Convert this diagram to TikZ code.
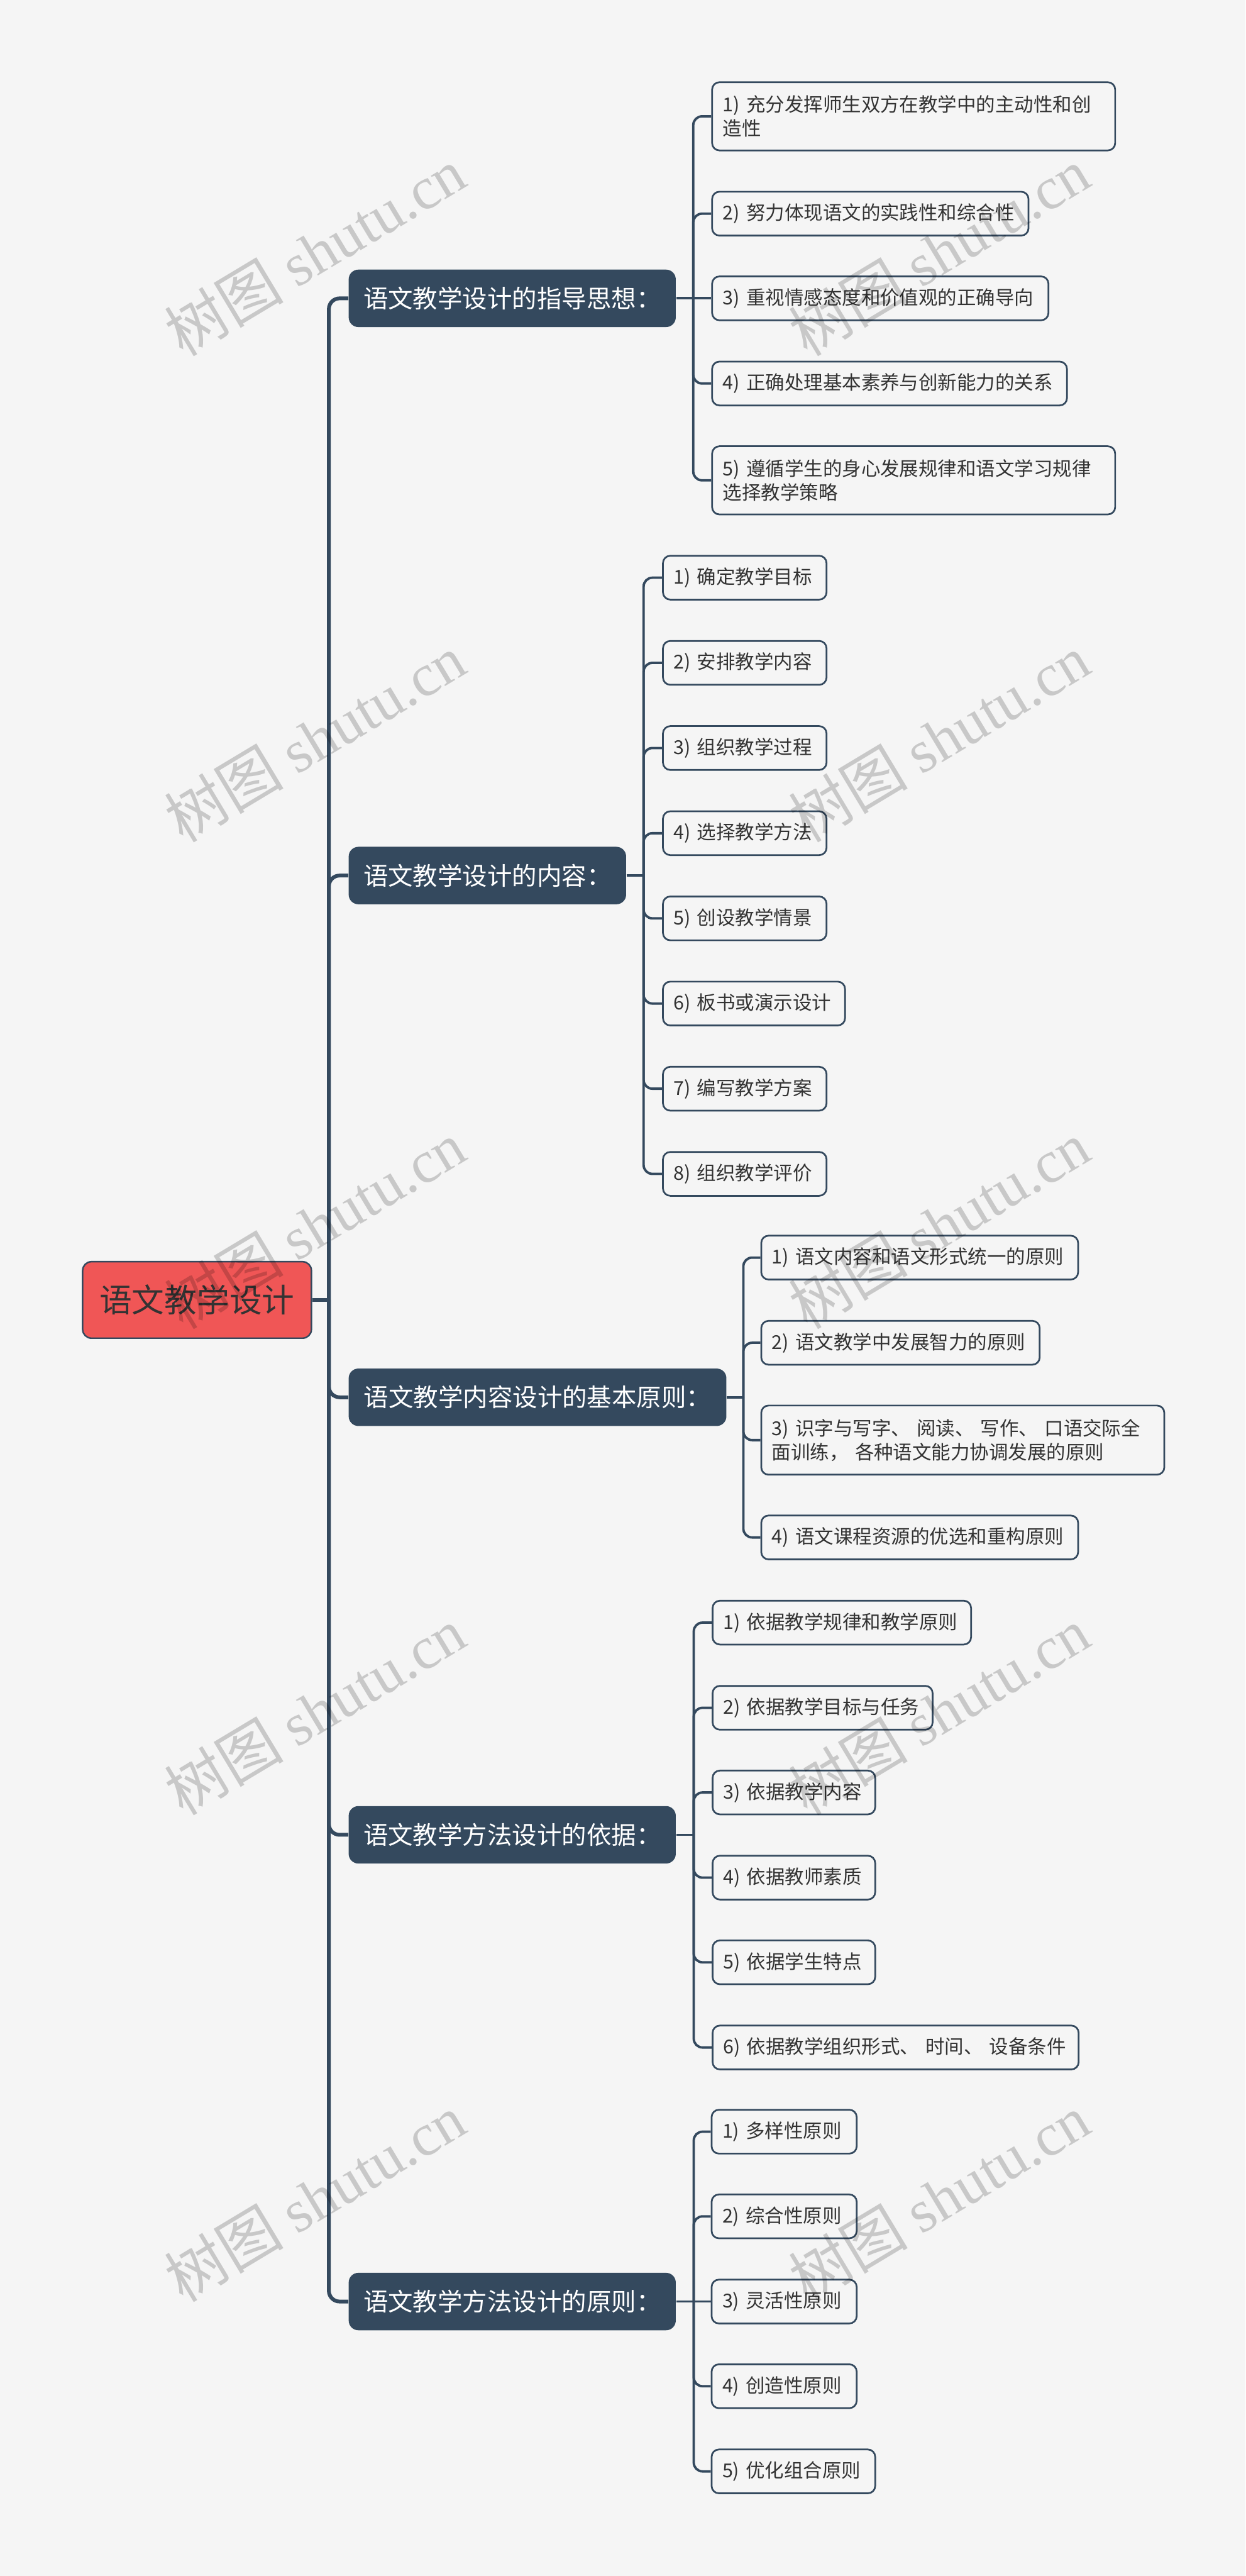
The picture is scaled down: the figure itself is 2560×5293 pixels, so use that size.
\documentclass[tikz,border=0pt]{standalone}
\usepackage{fontspec}
\setmainfont{Noto Sans CJK SC}
\newfontfamily\wmserif{Liberation Serif}
\definecolor{bg}{HTML}{F5F5F5}
\definecolor{navy}{HTML}{34495E}
\definecolor{rootred}{HTML}{F05656}
\definecolor{txt}{HTML}{333333}
\begin{document}
\begin{tikzpicture}[x=0.01cm,y=-0.01cm,
 rootbox/.style={draw=navy, line width=0.9pt, fill=rootred, rounded corners=0.18cm, minimum width=4.70cm, minimum height=1.57cm, inner sep=0pt, font=\fontsize{19}{23}\selectfont, text=txt},
 topicbox/.style={fill=navy, rounded corners=0.2cm, minimum height=1.18cm, inner xsep=0.1cm, inner ysep=0pt, anchor=west, font=\fontsize{14.5}{17}\selectfont, text=white},
 itembox/.style={draw=navy, line width=1pt, fill=bg, rounded corners=0.15cm, minimum height=0.9cm, inner xsep=0.22cm, inner ysep=0pt, anchor=west, align=left, font=\fontsize{11.2}{13.95}\selectfont, text=txt},
 trunk/.style={draw=navy, line width=2.2pt, rounded corners=0.22cm},
 twig/.style={draw=navy, line width=1.4pt, rounded corners=0.18cm},
 wmark/.style={rotate=31, text opacity=0.18, text=black, font=\fontsize{35}{40}\selectfont, inner sep=0pt}
]
\fill[bg] (0,0) rectangle (2560,5293);
\useasboundingbox (0,0) rectangle (2560,5293);

% root and topics
\node[rootbox] (root) at (405,2671) {语文教学设计};
\node[topicbox, minimum width=6.72cm] (A) at (716,613) {语文教学设计的指导思想：};
\node[topicbox, minimum width=5.70cm] (B) at (716,1799) {语文教学设计的内容：};
\node[topicbox, minimum width=7.76cm] (C) at (716,2871) {语文教学内容设计的基本原则：};
\node[topicbox, minimum width=6.72cm] (D) at (716,3770) {语文教学方法设计的依据：};
\node[topicbox, minimum width=6.72cm] (E) at (716,4729) {语文教学方法设计的原则：};

% group A
\node[itembox, text width=7.84cm, minimum height=1.4cm] (A1) at (1462,239) {1)~充分发挥师生双方在教学中的主动性和创\\造性};
\node[itembox, text width=6.06cm] (A2) at (1462,439) {2)~努力体现语文的实践性和综合性};
\node[itembox, text width=6.47cm] (A3) at (1462,613) {3)~重视情感态度和价值观的正确导向};
\node[itembox, text width=6.85cm] (A4) at (1462,788) {4)~正确处理基本素养与创新能力的关系};
\node[itembox, text width=7.84cm, minimum height=1.4cm] (A5) at (1462,987) {5)~遵循学生的身心发展规律和语文学习规律\\选择教学策略};

% group B
\node[itembox, text width=2.92cm] (B1) at (1361,1187) {1)~确定教学目标};
\node[itembox, text width=2.92cm] (B2) at (1361,1362) {2)~安排教学内容};
\node[itembox, text width=2.92cm] (B3) at (1361,1537) {3)~组织教学过程};
\node[itembox, text width=2.92cm] (B4) at (1361,1712) {4)~选择教学方法};
\node[itembox, text width=2.92cm] (B5) at (1361,1887) {5)~创设教学情景};
\node[itembox, text width=3.30cm] (B6) at (1361,2062) {6)~板书或演示设计};
\node[itembox, text width=2.92cm] (B7) at (1361,2237) {7)~编写教学方案};
\node[itembox, text width=2.92cm] (B8) at (1361,2412) {8)~组织教学评价};

% group C
\node[itembox, text width=6.07cm] (C1) at (1563,2584) {1)~语文内容和语文形式统一的原则};
\node[itembox, text width=5.28cm] (C2) at (1563,2759) {2)~语文教学中发展智力的原则};
\node[itembox, text width=7.84cm, minimum height=1.42cm] (C3) at (1563,2959) {3)~识字与写字、~阅读、~写作、~口语交际全\\面训练，~各种语文能力协调发展的原则};
\node[itembox, text width=6.07cm] (C4) at (1563,3159) {4)~语文课程资源的优选和重构原则};

% group D
\node[itembox, text width=4.87cm] (D1) at (1463,3334) {1)~依据教学规律和教学原则};
\node[itembox, text width=4.08cm] (D2) at (1463,3509) {2)~依据教学目标与任务};
\node[itembox, text width=2.90cm] (D3) at (1463,3683) {3)~依据教学内容};
\node[itembox, text width=2.90cm] (D4) at (1463,3858) {4)~依据教师素质};
\node[itembox, text width=2.90cm] (D5) at (1463,4032) {5)~依据学生特点};
\node[itembox, text width=7.08cm] (D6) at (1463,4207) {6)~依据教学组织形式、~时间、~设备条件};

% group E
\node[itembox, text width=2.54cm] (E1) at (1461,4380) {1)~多样性原则};
\node[itembox, text width=2.54cm] (E2) at (1461,4554) {2)~综合性原则};
\node[itembox, text width=2.54cm] (E3) at (1461,4729) {3)~灵活性原则};
\node[itembox, text width=2.54cm] (E4) at (1461,4903) {4)~创造性原则};
\node[itembox, text width=2.92cm] (E5) at (1461,5078) {5)~优化组合原则};

% trunk
\coordinate (rj) at (676,2671);
\draw[trunk] (root.east) -- (rj);
\foreach \n in {A,B,C,D,E} \draw[trunk] (rj) |- (\n.west);

% branches
\coordinate (aj) at (1425,613);
\draw[twig] (A.east) -- (aj);
\foreach \n in {A1,A2,A4,A5} \draw[twig] (aj) |- (\n.west);
\draw[twig] (aj) -- (A3.west);

\coordinate (bj) at (1323,1799);
\draw[twig] (B.east) -- (bj);
\foreach \n in {B1,B2,B3,B4,B5,B6,B7,B8} \draw[twig] (bj) |- (\n.west);

\coordinate (cj) at (1528,2871);
\draw[twig] (C.east) -- (cj);
\foreach \n in {C1,C2,C3,C4} \draw[twig] (cj) |- (\n.west);

\coordinate (dj) at (1426,3770);
\draw[twig] (D.east) -- (dj);
\foreach \n in {D1,D2,D3,D4,D5,D6} \draw[twig] (dj) |- (\n.west);

\coordinate (ej) at (1426,4729);
\draw[twig] (E.east) -- (ej);
\foreach \n in {E1,E2,E4,E5} \draw[twig] (ej) |- (\n.west);
\draw[twig] (ej) -- (E3.west);

% watermarks
\foreach \wy [count=\i] in {517,1517,2517,3516,4516}{
  \node[wmark] (wl\i) at (647,\wy) {树图 {\wmserif shutu.cn}};
  \node[wmark] (wr\i) at (1930,\wy) {树图 {\wmserif shutu.cn}};
}
\end{tikzpicture}
\end{document}
